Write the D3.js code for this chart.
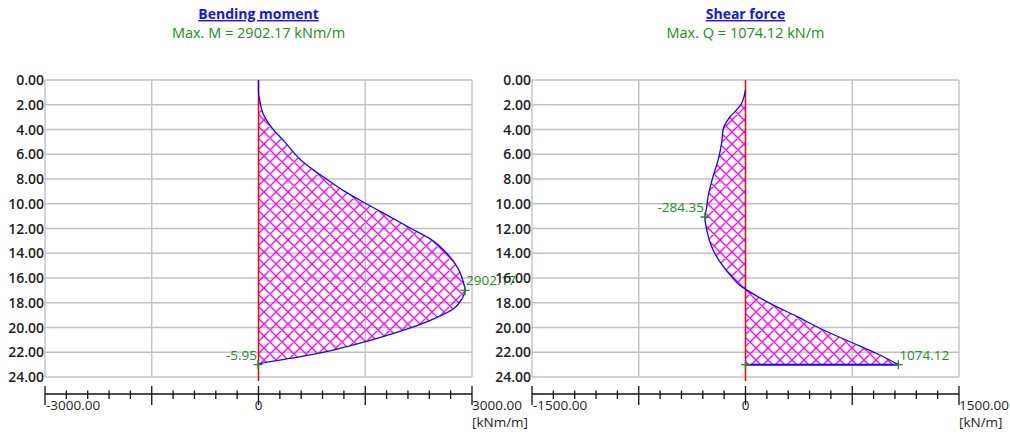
<!DOCTYPE html>
<html>
<head>
<meta charset="utf-8">
<script src="https://cdn.jsdelivr.net/npm/d3@7"></script>
<style>
  html, body { margin: 0; padding: 0; background: #fff; }
  svg { display: block; font-family: "Open Sans", "Noto Sans", sans-serif; }
</style>
</head>
<body>
<svg id="chart" width="1010" height="434"></svg>
<script>
// Depth axis (m)
const depthTicks = [0, 2, 4, 6, 8, 10, 12, 14, 16, 18, 20, 22, 24];

// Bending moment along the wall (depth in m, moment in kNm/m)
const momentDepth = [0, 1.0, 1.6, 2.7, 3.8, 5.0, 6.5, 7.9, 9.0, 10.0, 11.0, 12.0, 12.9, 14.1, 15.2, 16.2, 17.0, 18.0, 18.45, 19.4, 20.2, 21.1, 21.8, 22.4, 22.9, 23.0];
const momentValue = [0, 0, 17, 63, 180, 368, 601, 930, 1211, 1514, 1830, 2145, 2427, 2661, 2802, 2872, 2902.17, 2820, 2750, 2423, 2049, 1535, 1068, 554, 40, -5.95];

// Shear force along the wall (depth in m, force in kN/m)
const shearDepth = [0.8, 1.3, 1.88, 2.56, 2.97, 3.37, 3.9, 5.1, 6.46, 7.8, 9.43, 10.37, 11.07, 12.1, 13.5, 14.7, 15.9, 16.6, 16.9, 18.05, 19.1, 20.2, 21.15, 22.1, 23.0];
const shearValue = [0, -10, -27, -74, -109, -132, -155, -168, -192, -228, -263, -274, -284.35, -273, -237, -179, -97, -39, 0, 172, 360, 547, 734, 922, 1074.12];

// Axis ranges and labels
const momentRange = [-3000, 3000];
const shearRange = [-1500, 1500];
const momentLabels = ["-3000.00", "0", "3000.00"];
const shearLabels = ["-1500.00", "0", "1500.00"];
const momentUnit = "[kNm/m]";
const shearUnit = "[kN/m]";

// Annotated values: [depth, value, label, label side]
const momentMarks = [[17.0, 2902.17, "2902.17", "right"], [23.0, -5.95, "-5.95", "left"]];
const shearMarks = [[11.07, -284.35, "-284.35", "left"], [23.0, 1074.12, "1074.12", "right"], [23.0, 0, "", "left"]];

const svg = d3.select("#chart");
const GREEN = "#238c23";

// Cross-hatch fill
const H = 12;
const defs = svg.append("defs");
const pat = defs.append("pattern")
  .attr("id", "hatch")
  .attr("patternUnits", "userSpaceOnUse")
  .attr("width", H).attr("height", H);
pat.append("path")
  .attr("d", `M-1,-1 L${H + 1},${H + 1} M-1,${H - 1} L1,${H + 1} M${H - 1},-1 L${H + 1},1 ` +
             `M-1,${H + 1} L${H + 1},-1 M-1,1 L1,-1 M${H - 1},${H + 1} L${H + 1},${H - 1}`)
  .attr("stroke", "#ff00ff").attr("stroke-width", 1.3).attr("fill", "none");

const y = d3.scaleLinear().domain([0, 24]).range([80, 377]);

function panel(opts) {
  const g = svg.append("g");
  const x = d3.scaleLinear().domain(opts.range).range(opts.px);
  const [x0, x1] = opts.px;
  const xz = x(0);

  // titles
  g.append("text").attr("x", xz).attr("y", 19)
    .attr("text-anchor", "middle").attr("font-size", 14).attr("font-weight", 700)
    .attr("fill", "#1414f0").attr("text-decoration", "underline")
    .text(opts.title);
  g.append("text").attr("x", xz).attr("y", 38)
    .attr("text-anchor", "middle").attr("font-size", 14.5)
    .attr("fill", GREEN).text(opts.subtitle);

  // horizontal grid + depth labels
  depthTicks.forEach(d => {
    g.append("line").attr("x1", x0).attr("x2", x1)
      .attr("y1", y(d)).attr("y2", y(d))
      .attr("stroke", "#c2c2c2").attr("stroke-width", 1.4);
    g.append("text").attr("x", x0 - 1).attr("y", y(d))
      .attr("dy", "0.36em").attr("text-anchor", "end")
      .attr("font-size", 14).attr("font-weight", 600).attr("fill", "#1e1e1e")
      .text(d3.format(".2f")(d));
  });

  // vertical grid at the major steps
  const step = opts.range[1] / 2;
  const majors = d3.range(opts.range[0], opts.range[1] + step / 2, step);
  majors.forEach(v => {
    if (v === 0) return;
    g.append("line").attr("x1", x(v)).attr("x2", x(v))
      .attr("y1", y(0)).attr("y2", y(24))
      .attr("stroke", "#c2c2c2").attr("stroke-width", 1.4);
  });

  // hatched area between zero line and the diagram
  const pts = opts.depth.map((d, i) => [d, opts.value[i]]);
  const area = d3.area()
    .y(p => y(p[0])).x0(xz).x1(p => x(p[1]))
    .curve(d3.curveMonotoneY);
  g.append("path").datum(pts).attr("d", area).attr("fill", "url(#hatch)");

  // zero line
  g.append("line").attr("x1", xz).attr("x2", xz)
    .attr("y1", y(0)).attr("y2", 381)
    .attr("stroke", "#ff0000").attr("stroke-width", 1.5);

  // diagram outline
  const line = d3.line().y(p => y(p[0])).x(p => x(p[1])).curve(d3.curveMonotoneY);
  g.append("path").datum(pts).attr("d", line)
    .attr("fill", "none").attr("stroke", "#0a0aff").attr("stroke-width", 1.3);
  if (opts.closeBottom) {
    const last = pts[pts.length - 1];
    g.append("line").attr("x1", xz).attr("x2", x(last[1]))
      .attr("y1", y(last[0])).attr("y2", y(last[0]))
      .attr("stroke", "#0a0aff").attr("stroke-width", 2);
  }

  // value markers
  opts.marks.forEach(([d, v, lbl, side]) => {
    const px = x(v), py = y(d);
    g.append("path")
      .attr("d", `M${px - 4.5},${py}H${px + 4.5}M${px},${py - 4.5}V${py + 4.5}`)
      .attr("stroke", GREEN).attr("stroke-width", 1.4);
    if (lbl) {
      g.append("text")
        .attr("x", side === "right" ? px + 1 : px - 1)
        .attr("y", py - 5)
        .attr("text-anchor", side === "right" ? "start" : "end")
        .attr("font-size", 13.5).attr("fill", GREEN).text(lbl);
    }
  });

  // bottom scale
  const axY = 394;
  g.append("line").attr("x1", x0).attr("x2", x1).attr("y1", axY).attr("y2", axY)
    .attr("stroke", "#111").attr("stroke-width", 1.5);
  const minorStep = step / 5;
  d3.range(opts.range[0], opts.range[1] + minorStep / 2, minorStep).forEach(v => {
    const isMajor = Math.abs(Math.round(v / step) * step - v) < 1e-6;
    g.append("line").attr("x1", x(v)).attr("x2", x(v))
      .attr("y1", isMajor ? 386 : 390.5).attr("y2", isMajor ? 405 : 399)
      .attr("stroke", "#111").attr("stroke-width", 1.3);
  });
  g.append("text").attr("x", x0 + 1).attr("y", 410).attr("font-size", 13.5)
    .attr("fill", "#1e1e1e").text(opts.labels[0]);
  g.append("text").attr("x", xz).attr("y", 410).attr("text-anchor", "middle")
    .attr("font-size", 13.5).attr("fill", "#1e1e1e").text(opts.labels[1]);
  g.append("text").attr("x", x1).attr("y", 410).attr("font-size", 13.5)
    .attr("fill", "#1e1e1e").text(opts.labels[2]);
  g.append("text").attr("x", x1).attr("y", 427).attr("font-size", 13.5)
    .attr("fill", "#1e1e1e").text(opts.unit);
}

panel({
  title: "Bending moment", subtitle: "Max. M = 2902.17 kNm/m",
  range: momentRange, px: [45, 472],
  depth: momentDepth, value: momentValue,
  marks: momentMarks, labels: momentLabels, unit: momentUnit,
  closeBottom: false
});

panel({
  title: "Shear force", subtitle: "Max. Q = 1074.12 kN/m",
  range: shearRange, px: [532, 959],
  depth: shearDepth, value: shearValue,
  marks: shearMarks, labels: shearLabels, unit: shearUnit,
  closeBottom: true
});
</script>
</body>
</html>
